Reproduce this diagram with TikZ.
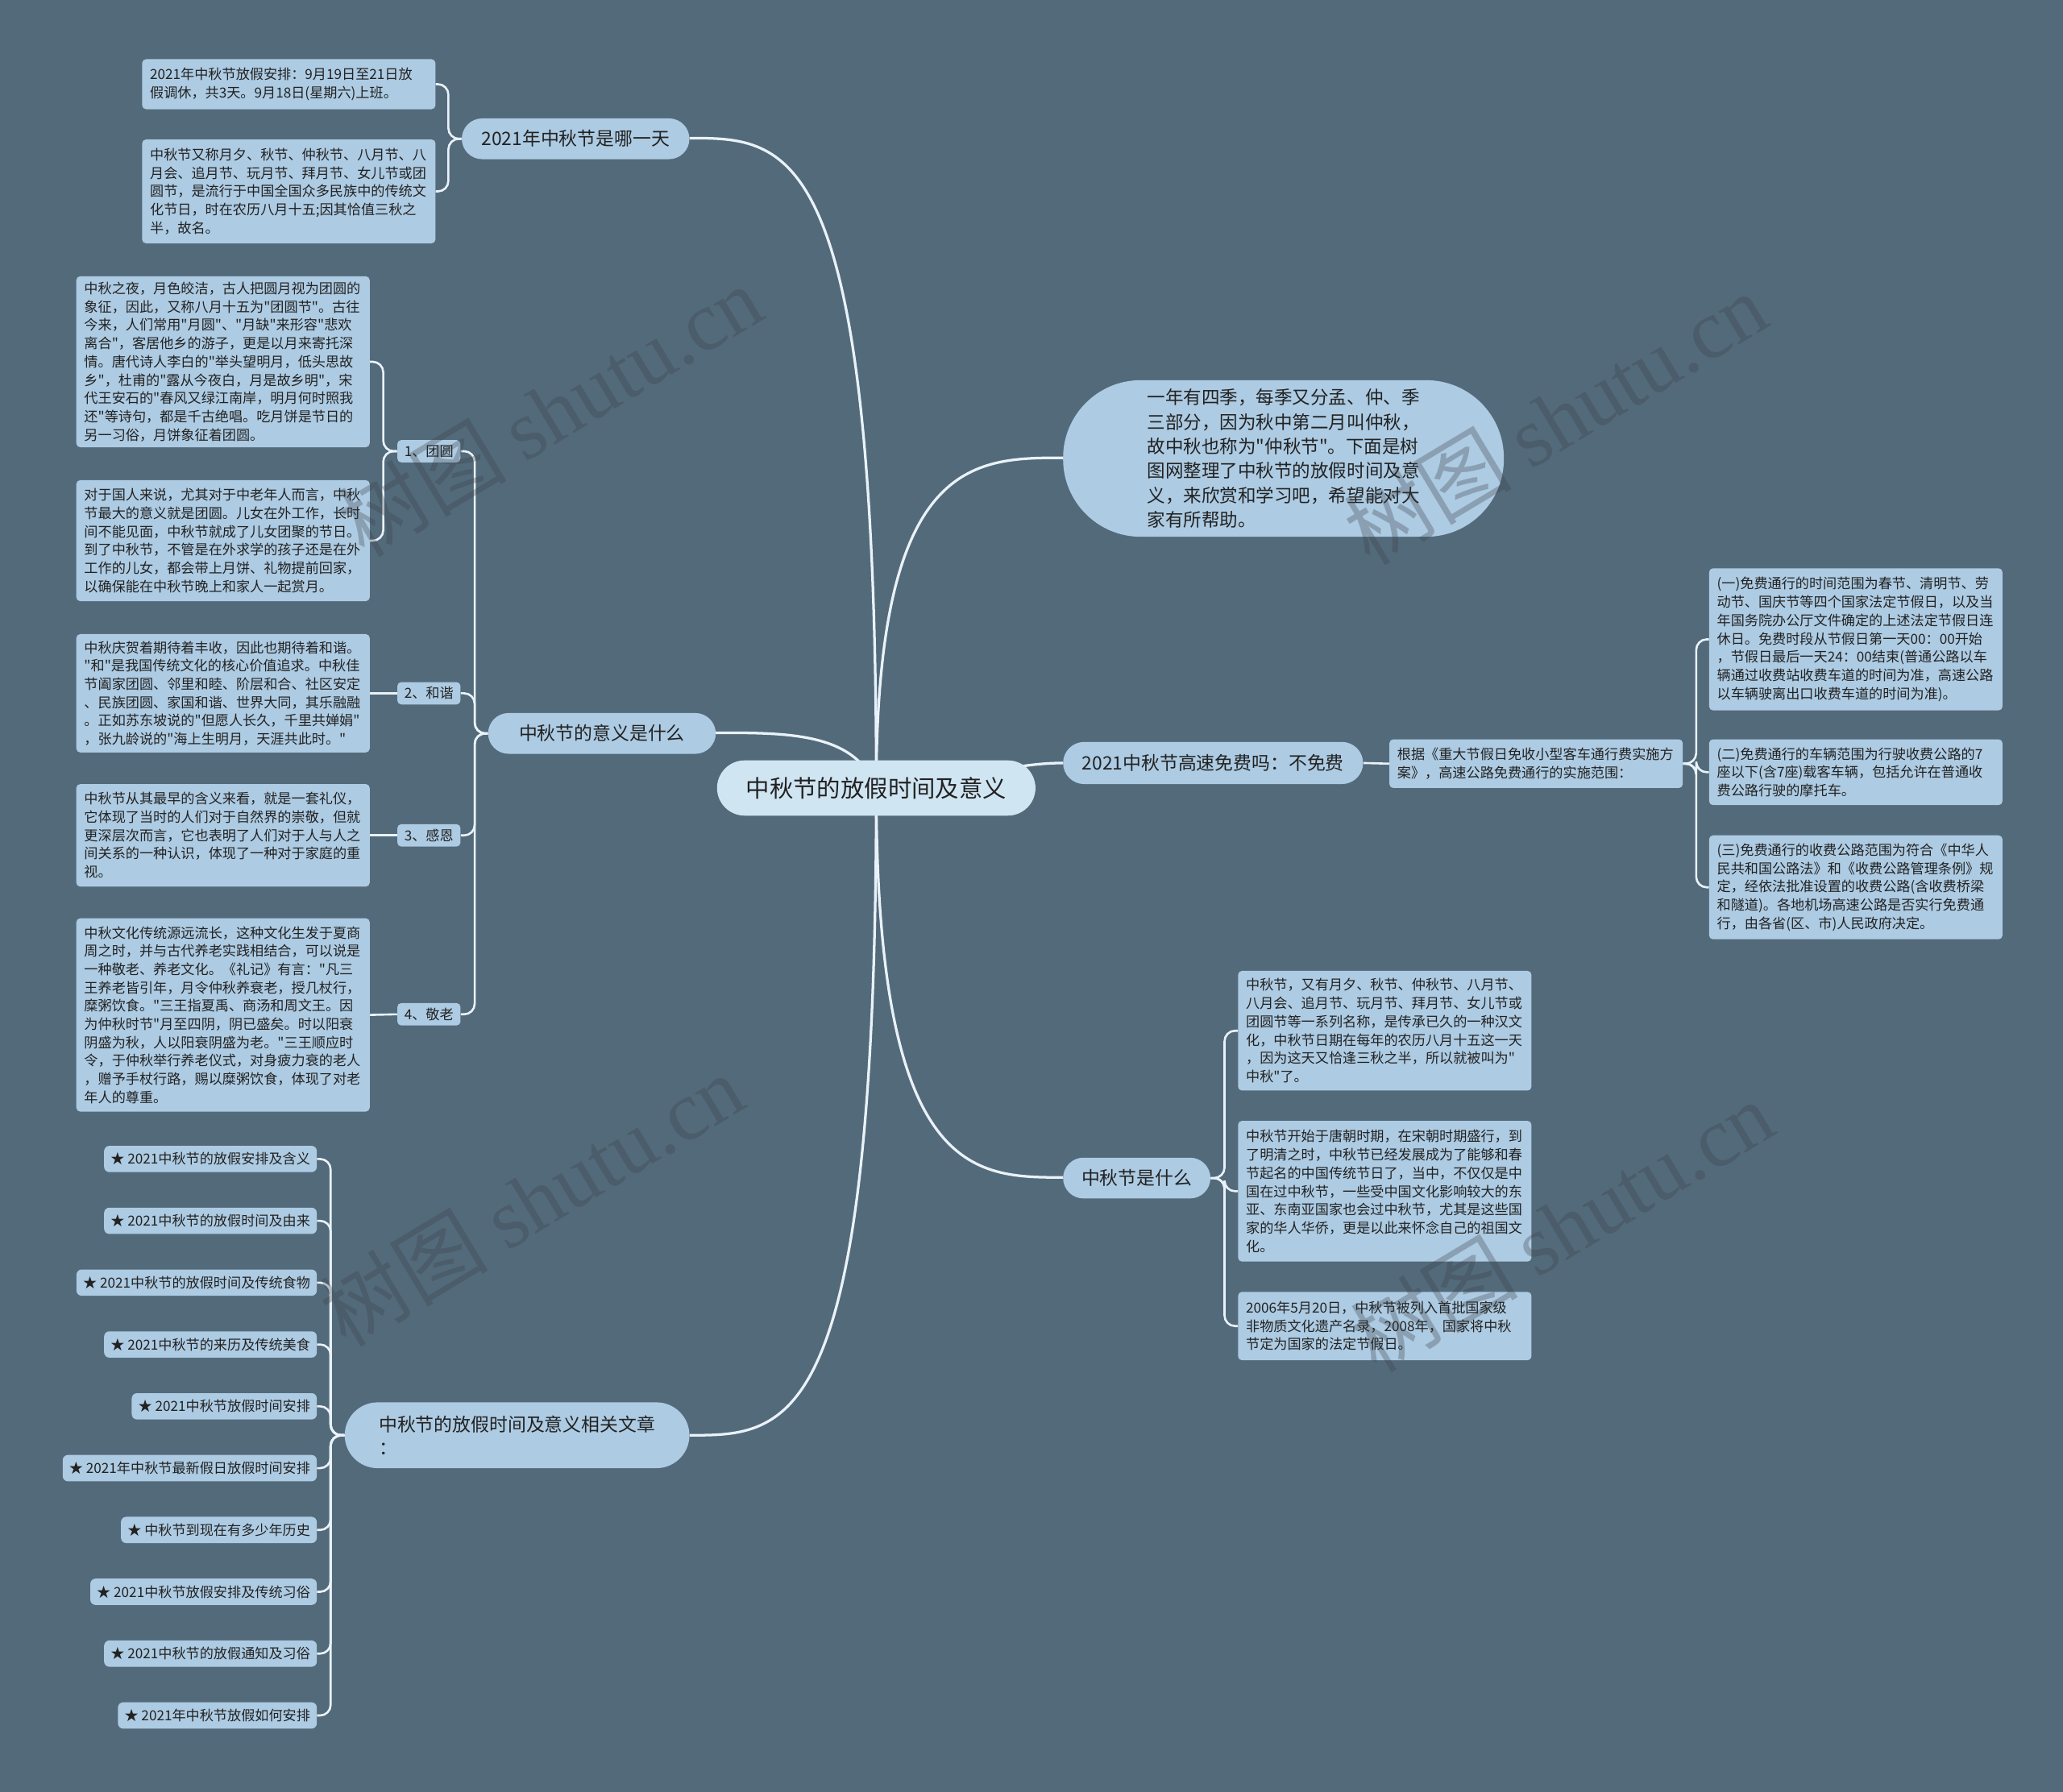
\documentclass[tikz,border=0pt]{standalone}
\usepackage{fontspec}
\setmainfont{Noto Sans CJK SC}[Ligatures=TeXOff]
\newfontfamily\cjk{Noto Sans CJK SC}[Ligatures=TeXOff]
\newfontfamily\wmfont{Liberation Serif}
\definecolor{bgc}{HTML}{536A7B}
\definecolor{nodefill}{HTML}{ADCBE2}
\definecolor{rootfill}{HTML}{D0E5F2}
\definecolor{linec}{HTML}{E9F2F8}
\definecolor{txt}{HTML}{222222}
\definecolor{wmc}{HTML}{3A3F44}
\begin{document}
\begin{tikzpicture}[x=1pt,y=-1pt,
  base/.style={fill=nodefill, text=txt, inner sep=0pt},
  leaf/.style={base, rounded corners=3pt, font=\cjk\fontsize{10.5}{13.9}\selectfont,
     text width=211pt, inner xsep=6pt, align=left},
  sub/.style={base, rounded corners=3pt, font=\cjk\fontsize{10.5}{13}\selectfont,
     minimum width=48pt, minimum height=17pt},
  item/.style={base, rounded corners=4pt, font=\cjk\fontsize{10.5}{13}\selectfont,
     inner xsep=5pt, minimum height=20pt, anchor=east},
  topic/.style={base, rounded corners=15.5pt, font=\cjk\fontsize{14}{18}\selectfont,
     minimum height=31pt},
  rootn/.style={base, fill=rootfill, rounded corners=21pt, font=\cjk\fontsize{18}{22}\selectfont,
     minimum width=242pt, minimum height=42pt},
  main/.style={draw=linec, line width=2pt},
  conn/.style={draw=linec, line width=1.6pt, rounded corners=8pt},
  wm/.style={text=wmc, opacity=0.3, font=\cjk\fontsize{64}{66}\selectfont, inner sep=0pt}
]
\useasboundingbox (0,0) rectangle (1568,1362);
\fill[bgc] (0,0) rectangle (1568,1362);

% ---------- main branches ----------
\coordinate (rc) at (666,599);
\draw[main] (rc) .. controls (666,105) and (600,105) .. (524,105);
\draw[main] (rc) .. controls (650,557) and (600,557) .. (544,557);
\draw[main] (rc) .. controls (666,1091) and (600,1091) .. (524,1091);
\draw[main] (rc) .. controls (666,348) and (740,348) .. (808,348);
\draw[main] (rc) .. controls (720,599) and (760,580) .. (808,580);
\draw[main] (rc) .. controls (666,895) and (740,895) .. (808,895);

% ---------- root ----------
\node[rootn] (root) at (666,599) {中秋节的放假时间及意义};

% ---------- topics ----------
\node[topic, minimum width=173pt] (t1) at (437.5,105.5) {2021年中秋节是哪一天};
\node[topic, minimum width=173pt] (t2) at (457.5,557.5) {中秋节的意义是什么};
\node[topic, minimum width=262pt, minimum height=50pt, rounded corners=25pt, align=left] (t3) at (393,1091) {中秋节的放假时间及意义相关文章\\：};
\node[topic, minimum width=335pt, minimum height=119pt, rounded corners=59pt, align=left,
      font=\cjk\fontsize{13.8}{18.6}\selectfont] (t4) at (975.5,348.5)
 {一年有四季，每季又分孟、仲、季\\三部分，因为秋中第二月叫仲秋，\\故中秋也称为"仲秋节"。下面是树\\图网整理了中秋节的放假时间及意\\义，来欣赏和学习吧，希望能对大\\家有所帮助。};
\node[topic, minimum width=228pt, minimum height=32pt, rounded corners=16pt] (t5) at (922,580) {2021中秋节高速免费吗：不免费};
\node[topic, minimum width=112pt] (t6) at (864,895.5) {中秋节是什么};

% ---------- topic 1 leaves ----------
\node[leaf, minimum height=38pt] (a1) at (219.5,64) {2021年中秋节放假安排：9月19日至21日放\\假调休，共3天。9月18日(星期六)上班。};
\node[leaf, minimum height=79pt] (a2) at (219.5,145.5) {中秋节又称月夕、秋节、仲秋节、八月节、八\\月会、追月节、玩月节、拜月节、女儿节或团\\圆节，是流行于中国全国众多民族中的传统文\\化节日，时在农历八月十五;因其恰值三秋之\\半，故名。};
\draw[conn] (t1.west) -- ++(-10,0) |- (a1.east);
\draw[conn] (t1.west) -- ++(-10,0) |- (a2.east);

% ---------- topic 2 subs ----------
\node[sub] (s1) at (326,343) {1、团圆};
\node[sub] (s2) at (326,527) {2、和谐};
\node[sub] (s3) at (326,635) {3、感恩};
\node[sub] (s4) at (326,771) {4、敬老};
\foreach \s in {s1,s2,s3,s4} \draw[conn] (t2.west) -- ++(-10,0) |- (\s.east);

\node[leaf, minimum height=130pt] (b1) at (169.5,275) {中秋之夜，月色皎洁，古人把圆月视为团圆的\\象征，因此，又称八月十五为"团圆节"。古往\\今来，人们常用"月圆"、"月缺"来形容"悲欢\\离合"，客居他乡的游子，更是以月来寄托深\\情。唐代诗人李白的"举头望明月，低头思故\\乡"，杜甫的"露从今夜白，月是故乡明"，宋\\代王安石的"春风又绿江南岸，明月何时照我\\还"等诗句，都是千古绝唱。吃月饼是节日的\\另一习俗，月饼象征着团圆。};
\node[leaf, minimum height=92pt] (b2) at (169.5,411) {对于国人来说，尤其对于中老年人而言，中秋\\节最大的意义就是团圆。儿女在外工作，长时\\间不能见面，中秋节就成了儿女团聚的节日。\\到了中秋节，不管是在外求学的孩子还是在外\\工作的儿女，都会带上月饼、礼物提前回家，\\以确保能在中秋节晚上和家人一起赏月。};
\node[leaf, minimum height=90pt] (b3) at (169.5,527) {中秋庆贺着期待着丰收，因此也期待着和谐。\\"和"是我国传统文化的核心价值追求。中秋佳\\节阖家团圆、邻里和睦、阶层和合、社区安定\\、民族团圆、家国和谐、世界大同，其乐融融\\。正如苏东坡说的"但愿人长久，千里共婵娟"\\，张九龄说的"海上生明月，天涯共此时。"};
\node[leaf, minimum height=78pt] (b4) at (169.5,635) {中秋节从其最早的含义来看，就是一套礼仪，\\它体现了当时的人们对于自然界的崇敬，但就\\更深层次而言，它也表明了人们对于人与人之\\间关系的一种认识，体现了一种对于家庭的重\\视。};
\node[leaf, minimum height=147pt] (b5) at (169.5,771.5) {中秋文化传统源远流长，这种文化生发于夏商\\周之时，并与古代养老实践相结合，可以说是\\一种敬老、养老文化。《礼记》有言："凡三\\王养老皆引年，月令仲秋养衰老，授几杖行，\\糜粥饮食。"三王指夏禹、商汤和周文王。因\\为仲秋时节"月至四阴，阴已盛矣。时以阳衰\\阴盛为秋，人以阳衰阴盛为老。"三王顺应时\\令，于仲秋举行养老仪式，对身疲力衰的老人\\，赠予手杖行路，赐以糜粥饮食，体现了对老\\年人的尊重。};
\draw[conn] (s1.west) -- ++(-10.5,0) |- (b1.east);
\draw[conn] (s1.west) -- ++(-10.5,0) |- (b2.east);
\draw[conn] (s2.west) -- (b3.east);
\draw[conn] (s3.west) -- (b4.east);
\draw[conn] (s4.west) -- (b5.east);

% ---------- topic 3 items ----------
\node[item] (i1) at (241,881) {★ 2021中秋节的放假安排及含义};
\node[item] (i2) at (241,928) {★ 2021中秋节的放假时间及由来};
\node[item] (i3) at (241,975) {★ 2021中秋节的放假时间及传统食物};
\node[item] (i4) at (241,1022) {★ 2021中秋节的来历及传统美食};
\node[item] (i5) at (241,1069) {★ 2021中秋节放假时间安排};
\node[item] (i6) at (241,1116) {★ 2021年中秋节最新假日放假时间安排};
\node[item] (i7) at (241,1163) {★ 中秋节到现在有多少年历史};
\node[item] (i8) at (241,1210) {★ 2021中秋节放假安排及传统习俗};
\node[item] (i9) at (241,1257) {★ 2021中秋节的放假通知及习俗};
\node[item] (i10) at (241,1304) {★ 2021年中秋节放假如何安排};
\foreach \i in {i1,i2,i3,i4,i5,i6,i7,i8,i9,i10} \draw[conn] (t3.west) -- ++(-10.5,0) |- (\i.east);

% ---------- topic 5 (highway) ----------
\node[leaf, minimum height=37pt] (h0) at (1167.5,580.5) {根据《重大节假日免收小型客车通行费实施方\\案》，高速公路免费通行的实施范围：};
\draw[conn] (t5.east) -- (h0.west);
\node[leaf, minimum height=108pt] (h1) at (1410.5,486) {(一)免费通行的时间范围为春节、清明节、劳\\动节、国庆节等四个国家法定节假日，以及当\\年国务院办公厅文件确定的上述法定节假日连\\休日。免费时段从节假日第一天00：00开始\\，节假日最后一天24：00结束(普通公路以车\\辆通过收费站收费车道的时间为准，高速公路\\以车辆驶离出口收费车道的时间为准)。};
\node[leaf, minimum height=50pt] (h2) at (1410.5,587) {(二)免费通行的车辆范围为行驶收费公路的7\\座以下(含7座)载客车辆，包括允许在普通收\\费公路行驶的摩托车。};
\node[leaf, minimum height=79pt] (h3) at (1410.5,674.5) {(三)免费通行的收费公路范围为符合《中华人\\民共和国公路法》和《收费公路管理条例》规\\定，经依法批准设置的收费公路(含收费桥梁\\和隧道)。各地机场高速公路是否实行免费通\\行，由各省(区、市)人民政府决定。};
\foreach \h in {h1,h2,h3} \draw[conn] (h0.east) -- ++(10,0) |- (\h.west);

% ---------- topic 6 ----------
\node[leaf, minimum height=91pt] (w1) at (1052.5,783.5) {中秋节，又有月夕、秋节、仲秋节、八月节、\\八月会、追月节、玩月节、拜月节、女儿节或\\团圆节等一系列名称，是传承已久的一种汉文\\化，中秋节日期在每年的农历八月十五这一天\\，因为这天又恰逢三秋之半，所以就被叫为"\\中秋"了。};
\node[leaf, minimum height=107pt] (w2) at (1052.5,905.5) {中秋节开始于唐朝时期，在宋朝时期盛行，到\\了明清之时，中秋节已经发展成为了能够和春\\节起名的中国传统节日了，当中，不仅仅是中\\国在过中秋节，一些受中国文化影响较大的东\\亚、东南亚国家也会过中秋节，尤其是这些国\\家的华人华侨，更是以此来怀念自己的祖国文\\化。};
\node[leaf, minimum height=52pt] (w3) at (1052.5,1008) {2006年5月20日，中秋节被列入首批国家级\\非物质文化遗产名录，2008年，国家将中秋\\节定为国家的法定节假日。};
\foreach \w in {w1,w2,w3} \draw[conn] (t6.east) -- ++(10.5,0) |- (\w.west);

% ---------- watermarks ----------
\node[wm, rotate=31] (wm1) at (418,312) {树图 {\wmfont shutu.cn}};
\node[wm, rotate=31] (wm2) at (1182,318) {树图 {\wmfont shutu.cn}};
\node[wm, rotate=31] (wm3) at (404,912) {树图 {\wmfont shutu.cn}};
\node[wm, rotate=31] (wm4) at (1187,932) {树图 {\wmfont shutu.cn}};
\end{tikzpicture}
\end{document}
